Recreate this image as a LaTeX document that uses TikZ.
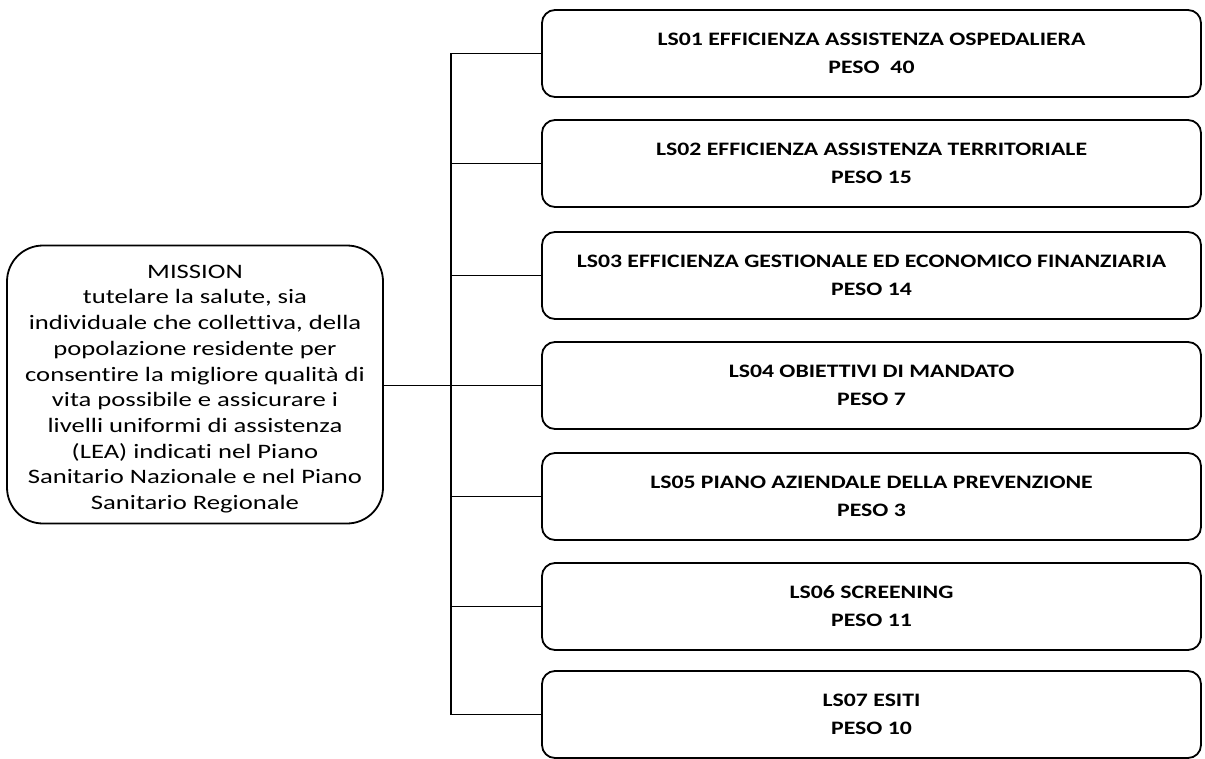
\documentclass[tikz,border=0pt]{standalone}
\usepackage{fontspec}
\setmainfont{Carlito}
\newfontfamily\missionfont[FakeStretch=1.3,Ligatures=NoCommon]{Carlito}
\newfontfamily\boxfont[FakeStretch=1.25,Ligatures=NoCommon]{Carlito}
\begin{document}
\begin{tikzpicture}[x=1pt,y=-1pt,
  lsbox/.style={draw, line width=1.8pt, rounded corners=13pt,
    minimum width=659pt, minimum height=87pt, inner sep=0pt, align=center,
    font=\boxfont\bfseries\fontsize{19}{28}\selectfont},
  missionbox/.style={draw, line width=1.8pt, rounded corners=36pt,
    minimum width=376pt, minimum height=278pt, inner sep=0pt},
  missiontext/.style={inner sep=0pt, align=center,
    font=\missionfont\fontsize{20.5}{25.7}\selectfont},
  conn/.style={line width=1.3pt}]
\useasboundingbox (0,0) rectangle (1205,758);
\fill[white] (0,0) rectangle (1205,758);

\node[lsbox] (ls1) at (871.5,53.5) {LS01 EFFICIENZA ASSISTENZA OSPEDALIERA\\PESO \ 40};
\node[lsbox] (ls2) at (871.5,163.5) {LS02 EFFICIENZA ASSISTENZA TERRITORIALE\\PESO 15};
\node[lsbox] (ls3) at (871.5,275.5) {LS03 EFFICIENZA GESTIONALE ED ECONOMICO FINANZIARIA\\PESO 14};
\node[lsbox] (ls4) at (871.5,385.5) {LS04 OBIETTIVI DI MANDATO\\PESO 7};
\node[lsbox] (ls5) at (871.5,496.5) {LS05 PIANO AZIENDALE DELLA PREVENZIONE\\PESO 3};
\node[lsbox] (ls6) at (871.5,606.5) {LS06 SCREENING\\PESO 11};
\node[lsbox] (ls7) at (871.5,714.5) {LS07 ESITI\\PESO 10};

\node[missionbox] (mission) at (195,384.5) {};
\node[missiontext] (missiontxt) at (195,389) {MISSION\\
tutelare la salute, sia\\
individuale che collettiva, della\\
popolazione residente per\\
consentire la migliore qualità di\\
vita possibile e assicurare i\\
livelli uniformi di assistenza\\
(LEA) indicati nel Piano\\
Sanitario Nazionale e nel Piano\\
Sanitario Regionale};

\coordinate (trunk) at (451,0);
\draw[conn] (ls1.west) -- (ls1.west -| trunk) -- (ls7.west -| trunk) -- (ls7.west);
\foreach \i in {2,3,5,6}{
  \draw[conn] (ls\i.west) -- (ls\i.west -| trunk);
}
\draw[conn] (mission.east |- ls4.west) -- (ls4.west);
\end{tikzpicture}
\end{document}
